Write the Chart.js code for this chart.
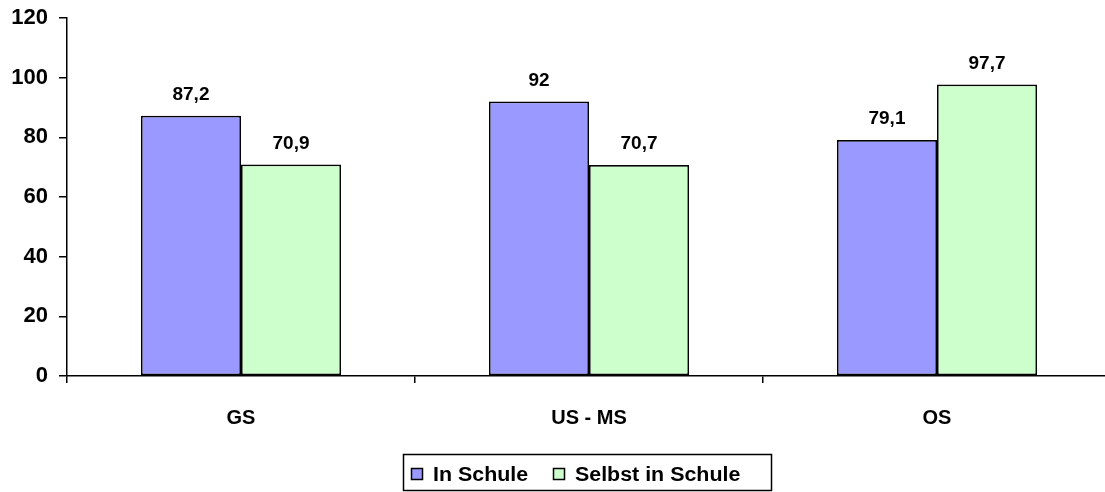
<!DOCTYPE html>
<html lang="de">
<head>
    <meta charset="UTF-8">
    <script src="https://cdn.jsdelivr.net/npm/chart.js"></script>
    <title>Schule</title>
    <style>
        html, body { margin: 0; padding: 0; background: #fff; overflow: hidden; }
        #wrap { width: 1112px; height: 492px; position: relative; }
    </style>
</head>
<body>
    <div id="wrap"><canvas id="chart"></canvas></div>
    <script>
        const categories = ["GS", "US - MS", "OS"];
        const inSchule = [87.2, 92, 79.1];
        const selbstInSchule = [70.9, 70.7, 97.7];
        const seriesNames = ["In Schule", "Selbst in Schule"];
        const seriesColors = ["#9999FF", "#CCFFCC"];

        const fontFamily = "'Liberation Sans', Arial, sans-serif";

        function fmt(v) {
            return String(v).replace(".", ",");
        }

        // value labels above bars
        const valueLabels = {
            id: "valueLabels",
            afterDatasetsDraw(chart) {
                const ctx = chart.ctx;
                ctx.save();
                ctx.font = "bold 19px " + fontFamily;
                ctx.fillStyle = "#000";
                ctx.textAlign = "center";
                ctx.textBaseline = "middle";
                chart.data.datasets.forEach((ds, i) => {
                    chart.getDatasetMeta(i).data.forEach((bar, j) => {
                        ctx.fillText(fmt(ds.data[j]), bar.x, bar.y - 21);
                    });
                });
                ctx.restore();
            }
        };

        // boxed legend at the bottom
        const boxLegend = {
            id: "boxLegend",
            afterDraw(chart) {
                const ctx = chart.ctx;
                ctx.save();
                ctx.strokeStyle = "#000";
                ctx.lineWidth = 1.5;
                ctx.strokeRect(403.5, 454.5, 368, 36);
                ctx.font = "bold 20px " + fontFamily;
                ctx.textBaseline = "middle";
                const items = [
                    { sq: 411, tx: 433 },
                    { sq: 553, tx: 575 }
                ];
                items.forEach((it, i) => {
                    ctx.fillStyle = seriesColors[i];
                    ctx.fillRect(it.sq, 468, 11, 11);
                    ctx.lineWidth = 1.5;
                    ctx.strokeRect(it.sq + 0.5, 468.5, 11, 11);
                    ctx.fillStyle = "#000";
                    ctx.save();
                    ctx.translate(it.tx, 475);
                    ctx.scale(1.07, 1);
                    ctx.fillText(seriesNames[i], 0, 0);
                    ctx.restore();
                });
                ctx.restore();
            }
        };

        new Chart(document.getElementById("chart"), {
            type: "bar",
            data: {
                labels: categories,
                datasets: [
                    {
                        label: seriesNames[0],
                        data: inSchule,
                        backgroundColor: seriesColors[0],
                        borderColor: "#000",
                        borderWidth: 1.7,
                        borderSkipped: false
                    },
                    {
                        label: seriesNames[1],
                        data: selbstInSchule,
                        backgroundColor: seriesColors[1],
                        borderColor: "#000",
                        borderWidth: 1.7,
                        borderSkipped: false
                    }
                ]
            },
            options: {
                responsive: true,
                maintainAspectRatio: false,
                animation: false,
                layout: { padding: { top: 18, right: 1, left: 0, bottom: 0 } },
                plugins: {
                    legend: { display: false },
                    tooltip: { enabled: false }
                },
                datasets: {
                    bar: { categoryPercentage: 0.575, barPercentage: 1 }
                },
                scales: {
                    x: {
                        afterFit(scale) {
                            scale.height = 116;
                            scale.paddingLeft = 0;
                            scale.paddingRight = 0;
                        },
                        grid: {
                            offset: true,
                            drawOnChartArea: false,
                            color: "#000",
                            tickColor: "#000",
                            tickLength: 7,
                            lineWidth: 1.5
                        },
                        border: { color: "#000", width: 1.5 },
                        ticks: {
                            color: "#000",
                            padding: 23,
                            font: { family: fontFamily, size: 20, weight: "bold" }
                        }
                    },
                    y: {
                        min: 0,
                        max: 120,
                        afterFit(scale) {
                            scale.width = 67;
                            scale.paddingTop = 0;
                            scale.paddingBottom = 0;
                        },
                        grid: {
                            drawOnChartArea: false,
                            color: "#000",
                            tickColor: "#000",
                            tickLength: 8,
                            lineWidth: 1.5
                        },
                        border: { color: "#000", width: 1.5 },
                        ticks: {
                            stepSize: 20,
                            color: "#000",
                            padding: 11,
                            font: { family: fontFamily, size: 22, weight: "bold" }
                        }
                    }
                }
            },
            plugins: [valueLabels, boxLegend]
        });
    </script>
</body>
</html>
